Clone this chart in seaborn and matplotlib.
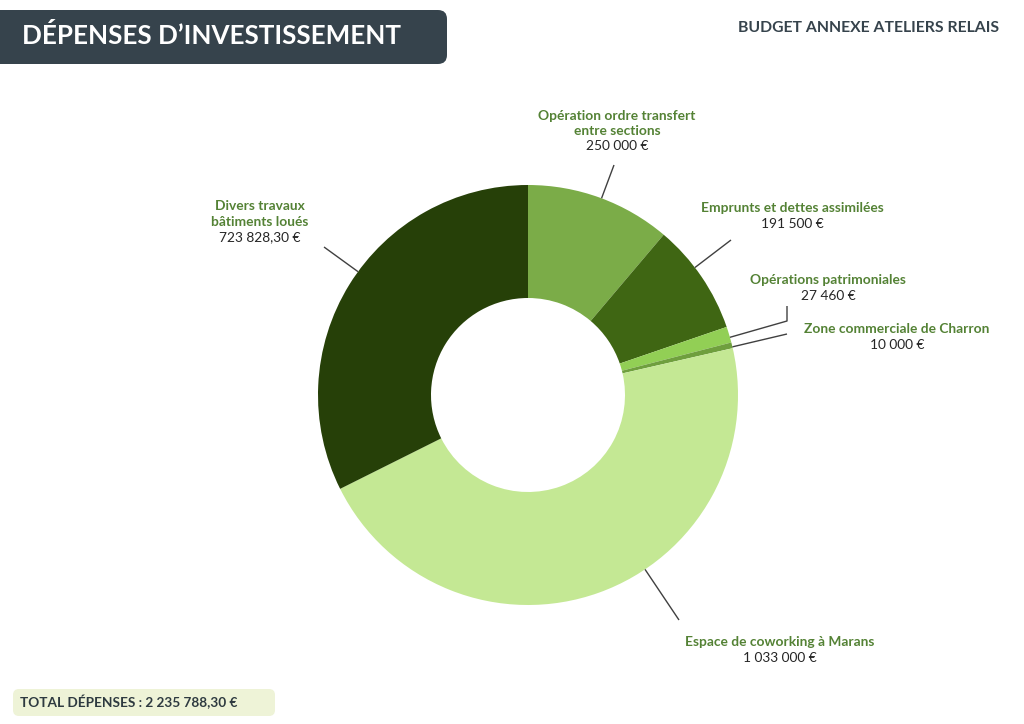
import numpy as np
import matplotlib
matplotlib.use("Agg")
import matplotlib.pyplot as plt
import seaborn as sns
from matplotlib.patches import FancyBboxPatch

# ------------------------------------------------------------------
# DONNEES
# ------------------------------------------------------------------
postes = [
    "Opération ordre transfert\nentre sections",
    "Emprunts et dettes assimilées",
    "Opérations patrimoniales",
    "Zone commerciale de Charron",
    "Espace de coworking à Marans",
    "Divers travaux\nbâtiments loués",
]
montants = [250000, 191500, 27460, 10000, 1033000, 723828.30]
montants_txt = ["250 000 €", "191 500 €", "27 460 €", "10 000 €",
                "1 033 000 €", "723 828,30 €"]
couleurs = ["#7bac48", "#3f6613", "#92cf55", "#6f9f3e", "#c4e894", "#264008"]
total_txt = "TOTAL DÉPENSES : 2 235 788,30 €"

# ------------------------------------------------------------------
# MISE EN PAGE (pixels, origine en haut a gauche)
# ------------------------------------------------------------------
W, H = 1024, 724
cx, cy, r_out, r_in = 528, 395, 210, 97

# centre du bloc de texte et extremite du trait de rappel
label_pos = [(617, 131), (792, 216), (828, 288), (897, 337), (780, 650), (260, 222)]
leader_end = [(614, 165), (731, 240), (787, 321), (787, 334), (679, 620), (324, 247)]
leader_elbow = [None, None, (787, 306), None, None, None]

sns.set_theme(style="white")
plt.rcParams["font.family"] = ["Lato", "DejaVu Sans"]

vert_txt = "#548235"
gris_txt = "#262626"
ardoise = "#36434c"

fig = plt.figure(figsize=(W / 100, H / 100), dpi=100)
ax = fig.add_axes([0, 0, 1, 1])


def up(y):
    return H - y


ax.pie(
    montants,
    colors=sns.color_palette(couleurs),
    startangle=90,
    counterclock=False,
    radius=r_out,
    center=(cx, up(cy)),
    wedgeprops=dict(width=r_out - r_in, edgecolor="none", linewidth=0),
)

# traits de rappel + etiquettes
for i, nom in enumerate(postes):
    ex, ey = leader_end[i]
    ang = np.arctan2(up(ey) - up(cy), ex - cx)
    sx = cx + r_out * np.cos(ang)
    sy = up(cy) + r_out * np.sin(ang)
    xs, ys = [sx, ex], [sy, up(ey)]
    if leader_elbow[i] is not None:
        xs.append(leader_elbow[i][0])
        ys.append(up(leader_elbow[i][1]))
    ax.plot(xs, ys, color="#404040", lw=1.0, solid_capstyle="butt")

    lx, ly = label_pos[i]
    n_lignes = nom.count("\n") + 1
    pas = 15.5
    y0 = ly - pas * n_lignes / 2
    for k, ligne in enumerate(nom.split("\n")):
        ax.text(lx, up(y0 + k * pas), ligne, ha="center", va="center",
                fontsize=9.9, fontweight="bold", color=vert_txt)
    ax.text(lx, up(y0 + n_lignes * pas), montants_txt[i], ha="center",
            va="center", fontsize=9.9, color=gris_txt)

# bandeau de titre
ax.add_patch(FancyBboxPatch((-30, up(64)), 477, 54,
                            boxstyle="round,pad=0,rounding_size=9",
                            facecolor=ardoise, edgecolor="none"))
ax.text(22, up(36), "DÉPENSES D’INVESTISSEMENT", ha="left", va="center",
        fontsize=18.7, fontweight="bold", color="white")

ax.text(999, up(28), "BUDGET ANNEXE ATELIERS RELAIS", ha="right",
        va="center", fontsize=11.3, fontweight="bold", color=ardoise)

# total
ax.add_patch(FancyBboxPatch((13, up(716)), 262, 27,
                            boxstyle="round,pad=0,rounding_size=6",
                            facecolor="#eef3d7", edgecolor="none"))
ax.text(20, up(702), total_txt, ha="left", va="center",
        fontsize=9.8, fontweight="bold", color="#2e3a40")

ax.set_xlim(0, W)
ax.set_ylim(0, H)
ax.set_aspect("equal")
ax.axis("off")

fig.savefig("out.png", dpi=100, facecolor="white")
